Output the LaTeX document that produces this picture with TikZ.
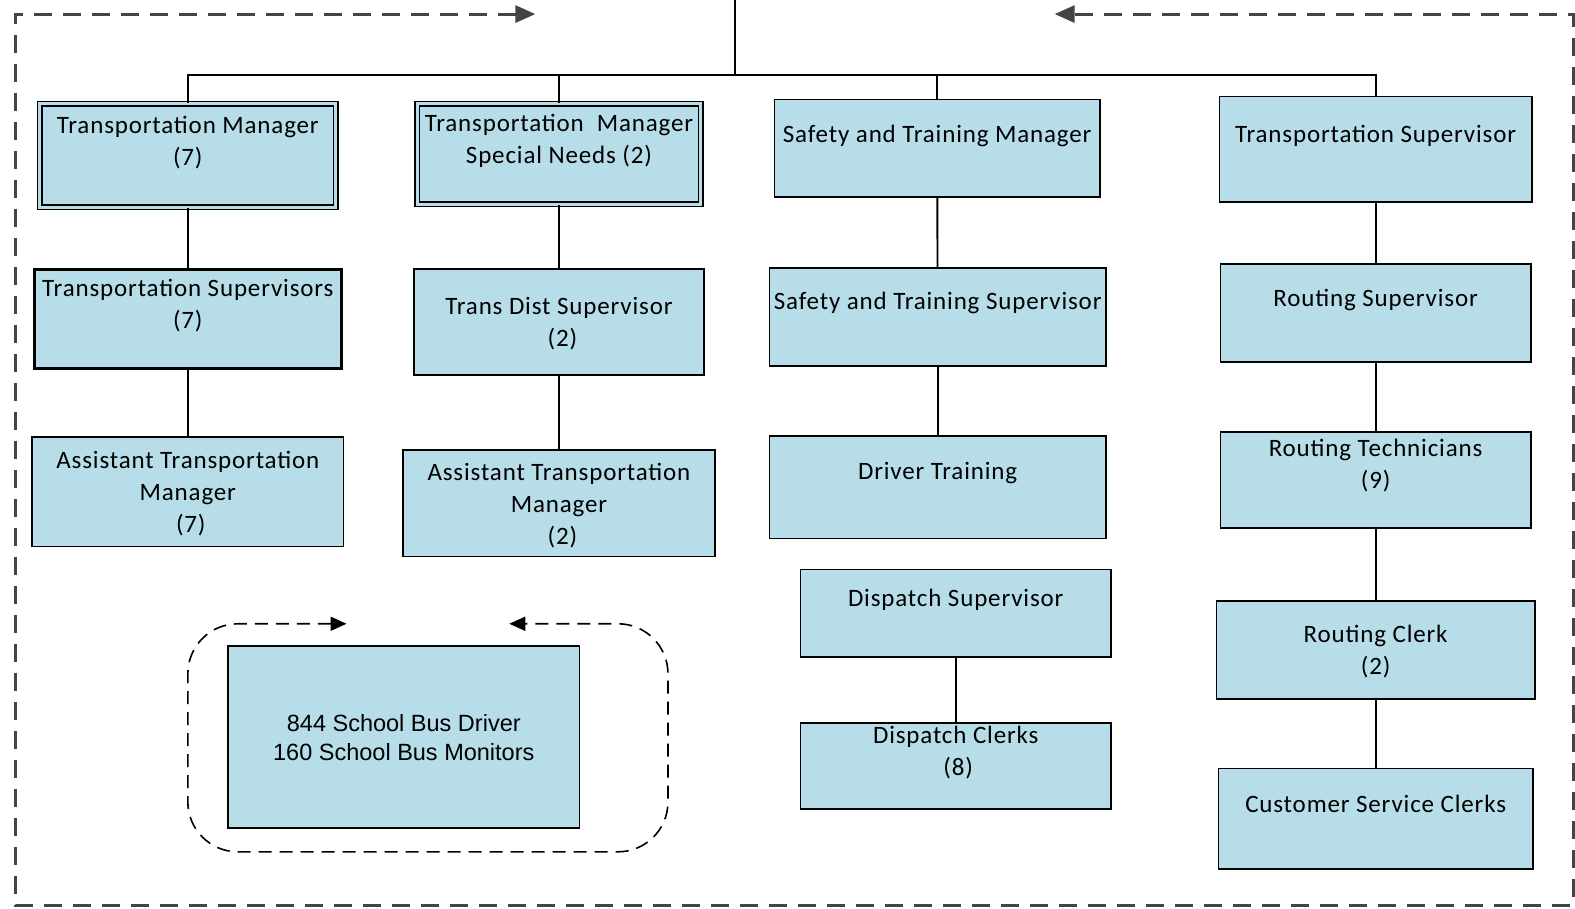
\documentclass[tikz,border=0pt]{standalone}
\usepackage{fontspec}
\setmainfont{Carlito}[LetterSpace=3.4]
\newfontfamily\arialf{Liberation Sans}
\usetikzlibrary{arrows.meta}
\definecolor{boxblue}{RGB}{183,221,232}
\definecolor{framegray}{RGB}{68,68,68}
\newcommand\orgbox[8][]{%
  \pgfmathsetmacro\bw{(#5-#3)*1.00446}\pgfmathsetmacro\bh{(#6-#4)*1.00446}%
  \pgfmathsetmacro\bcx{(#3+#5)/2}\pgfmathsetmacro\bcy{(#4+#6)/2}%
  \node[obox,#1] (#2) at (\bcx,\bcy) {\parbox[c][\bh pt][t]{\bw pt}{\centering\rule{0pt}{#7pt}#8}};%
}
\newcommand\rsh[1]{\hspace*{#1pt}}
\begin{document}
\begin{tikzpicture}[x=1.00446pt,y=-1.00446pt,
  obox/.style={draw=black, fill=boxblue, line width=1.8pt, inner sep=0pt, shape=rectangle,
    font=\fontsize{25}{32}\selectfont},
  dbl/.style={double=boxblue, double distance=3pt, line width=1.5pt},
  thick3/.style={line width=3pt},
  busfont/.style={font=\arialf\fontsize{23.5}{29}\selectfont},
  conn/.style={draw=black, line width=1.9pt},
  frame/.style={draw=framegray, line width=3pt, dash pattern=on 18pt off 11pt,
    {Triangle[length=20pt,width=17pt]}-{Triangle[length=20pt,width=17pt]}},
  loopline/.style={draw=black, line width=1.6pt, dash pattern=on 13pt off 8pt, rounded corners=50pt,
    {Triangle[length=16pt,width=14pt]}-{Triangle[length=16pt,width=14pt]}}]
\useasboundingbox (0,0) rectangle (1568,904);

% outer frame
\coordinate (fa) at (533,14);
\coordinate (fb) at (1050,14);
\draw[frame] (fa) -- (15,14) -- (15,901) -- (1566,901) -- (1566,14) -- (fb);

% column 1
\orgbox[dbl]{tma}{39.5}{103.5}{334.5}{206.5}{29.5}{Transportation Manager\\(7)}
\orgbox[thick3]{tsa}{34}{268}{340}{367}{27}{Transportation Supervisors\\(7)}
\orgbox{atma}{32}{435}{342}{544}{32}{Assistant Transportation\\Manager\\\rsh{6}(7)}

% column 2
\orgbox[dbl]{tmsn}{415.5}{103.5}{697.5}{203.5}{27.5}{Transportation\ \ Manager\\Special Needs (2)}
\orgbox{tds}{412}{268}{701}{373}{45}{Trans Dist Supervisor\\\rsh{7}(2)}
\orgbox{atmb}{401}{448}{712}{554}{30}{Assistant Transportation\\Manager\\\rsh{7}(2)}

% column 3
\orgbox{stm}{771}{99}{1095}{196}{43}{Safety and Training Manager}
\orgbox{sts}{766}{267}{1101}{364}{41}{Safety and Training Supervisor}
\orgbox{dt}{766}{434}{1101}{536}{44}{Driver Training}
\orgbox{ds}{797}{567}{1106}{654}{37}{Dispatch Supervisor}
\orgbox{dc}{797}{720}{1106}{805}{20}{Dispatch Clerks\\\rsh{5}(8)}

% column 4
\orgbox{tsb}{1214}{96}{1525}{201}{46}{Transportation Supervisor}
\orgbox{rs}{1215}{263}{1524}{360}{42}{Routing Supervisor}
\orgbox{rt}{1215}{430}{1524}{526}{25}{Routing Technicians\\(9)}
\orgbox{rc}{1211}{598}{1528}{696}{42}{Routing Clerk\\(2)}
\orgbox{csc}{1213}{765}{1526}{865}{44}{Customer Service Clerks}

% bus drivers
\orgbox[busfont]{bus}{227}{643}{577}{824}{86}{844 School Bus Driver\\160 School Bus Monitors}
\coordinate (la) at (345,621);
\coordinate (lb) at (507,621);
\draw[loopline] (la) -- (187,621) -- (187,848) -- (665,848) -- (665,621) -- (lb);

% connectors
\coordinate (top) at (732,0);
\coordinate (hub) at (732,75);
\draw[conn] (top) -- (hub);
\draw[conn] (tma.north) |- (hub) -| (tsb.north);
\draw[conn] (tmsn.north) -- (tmsn.north |- hub);
\draw[conn] (stm.north) -- (stm.north |- hub);
\draw[conn] (tma) -- (tsa);
\draw[conn] (tsa) -- (atma);
\draw[conn] (tmsn) -- (tds);
\draw[conn] (tds) -- (atmb);
\draw[conn] (stm) -- (sts);
\draw[conn] (sts) -- (dt);
\draw[conn] (ds) -- (dc);
\draw[conn] (tsb) -- (rs);
\draw[conn] (rs) -- (rt);
\draw[conn] (rt) -- (rc);
\draw[conn] (rc) -- (csc);
\end{tikzpicture}
\end{document}
